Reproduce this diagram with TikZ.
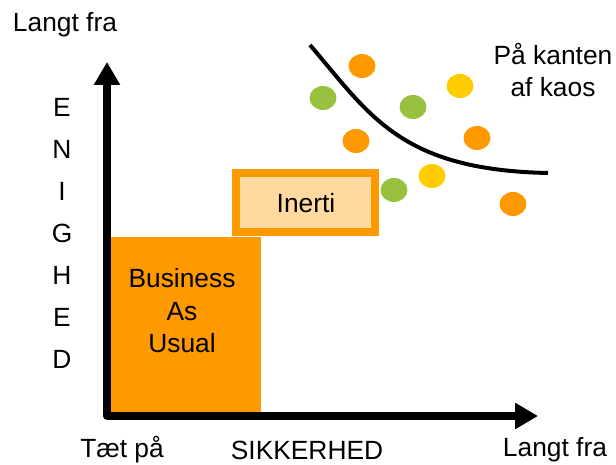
\documentclass[tikz,border=0pt]{standalone}
\usepackage{fontspec}
\setmainfont{Liberation Sans}
\usetikzlibrary{arrows.meta,shapes.geometric}
\definecolor{buaorange}{HTML}{FF9900}
\definecolor{inertifill}{HTML}{FFD9A0}
\definecolor{dotgreen}{HTML}{99C140}
\definecolor{dotyellow}{HTML}{FFCC00}

\begin{document}
\begin{tikzpicture}[x=0.02cm,y=-0.02cm,
  every node/.style={font=\fontsize{15}{18.5}\selectfont},
  axis/.style={line width=0.16cm,line join=round,
    {Triangle[length=0.46cm,width=0.5cm]}-{Triangle[length=0.46cm,width=0.5cm]}},
  dot/.style={ellipse,minimum width=0.54cm,minimum height=0.48cm,inner sep=0pt,fill=#1}]
\useasboundingbox (0,0) rectangle (616,465);

% boxes
\fill [buaorange] (107,237) rectangle (261,416);
\node [align=center] (bau) at (182,311) {Business\\As\\Usual};
\draw [buaorange,fill=inertifill,line width=0.16cm] (236,173) rectangle (375,232);
\node (inerti) at (306,203) {Inerti};

% axes
\coordinate (ytop) at (107,62);
\coordinate (origin) at (107,416);
\coordinate (xend) at (538,416);
\draw [axis] (ytop) -- (origin) -- (xend);

\node (ytoplabel) at (65,25) {Langt fra};
\foreach \l [count=\i] in {E,N,I,G,H,E,D}
  \node (enig\i) at (62,65+42*\i) {\l};
\node (taet) at (122,450) {Tæt på};
\node (sikker) at (307,450) {SIKKERHED};
\node (xendlabel) at (555,450) {Langt fra};

% kaos
\coordinate (edgestart) at (310,45);
\coordinate (edgeend) at (548,173);
\draw [line width=0.08cm] (edgestart) .. controls (370,115) and (400,170) .. (edgeend);
\node [align=center] (kaos) at (553,70) {På kanten\\af kaos};

\node [dot=buaorange] (d1) at (362,66) {};
\node [dot=dotgreen] (d2) at (323,98) {};
\node [dot=dotyellow] (d3) at (460,86) {};
\node [dot=dotgreen] (d4) at (413,107) {};
\node [dot=buaorange] (d5) at (356,141) {};
\node [dot=buaorange] (d6) at (477,138) {};
\node [dot=dotyellow] (d7) at (432,176) {};
\node [dot=dotgreen] (d8) at (394,190) {};
\node [dot=buaorange] (d9) at (513,204) {};
\end{tikzpicture}
\end{document}
